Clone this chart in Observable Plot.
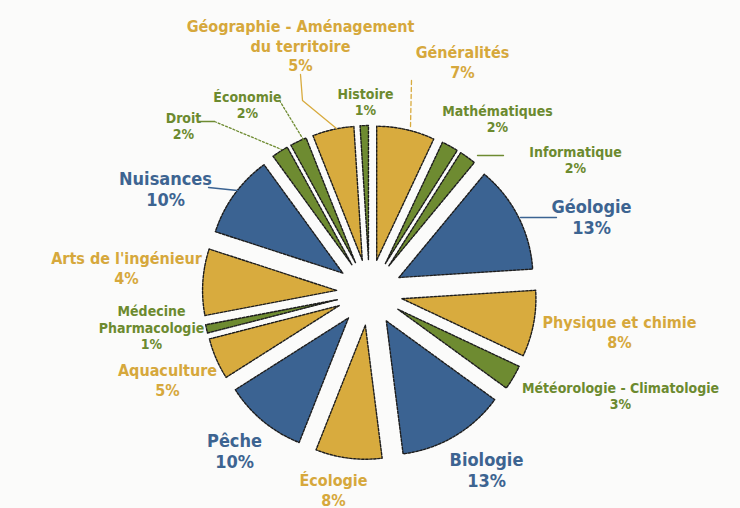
<!DOCTYPE html>
<html>
<head>
<meta charset="utf-8">
<script src="https://cdn.jsdelivr.net/npm/d3@7"></script>
<script src="https://cdn.jsdelivr.net/npm/@observablehq/plot@0.6"></script>
<style>
  html, body { margin: 0; padding: 0; background: #fbfbfa; }
  #chart svg { display: block; }
</style>
</head>
<body>
<div id="chart"></div>
<script>
// ---- Data ----
const categories = [
  "Généralités", "Mathématiques", "Informatique", "Géologie",
  "Physique et chimie", "Météorologie - Climatologie", "Biologie", "Écologie",
  "Pêche", "Aquaculture", "Médecine\nPharmacologie", "Arts de l'ingénieur",
  "Nuisances", "Droit", "Économie", "Géographie - Aménagement\ndu territoire", "Histoire"
];
const values = [7, 2, 2, 13, 8, 3, 13, 8, 10, 5, 1, 8, 10, 2, 2, 5, 1];
// percentages exactly as printed on the chart
const pctLabels = ["7%", "2%", "2%", "13%", "8%", "3%", "13%", "8%", "10%", "5%", "1%", "4%", "10%", "2%", "2%", "5%", "1%"];
const groups = ["gold", "green", "green", "blue", "gold", "green", "blue", "gold",
                "blue", "gold", "green", "gold", "blue", "green", "green", "gold", "green"];

// ---- Styles / layout ----
const palette = { gold: "#d8ab3e", blue: "#3b6392", green: "#6e8b31" };
const textColor = { gold: "#d6a83c", blue: "#3d6491", green: "#6c8a2f" };
const W = 740, H = 508;
const cx = 369, cy = 292;     // pie centre
const R = 134;                // slice radius
const EXPLODE = 33;           // outward offset of each slice

// label block centres (annotation layout)
const labelLayout = {
  "Généralités": [462, 61],
  "Mathématiques": [497, 118],
  "Informatique": [575, 159],
  "Géologie": [591, 216],
  "Physique et chimie": [619, 331],
  "Météorologie - Climatologie": [620, 395],
  "Biologie": [486, 469],
  "Écologie": [333, 489],
  "Pêche": [234, 450],
  "Aquaculture": [167, 379],
  "Médecine\nPharmacologie": [151, 327],
  "Arts de l'ingénieur": [126, 267],
  "Nuisances": [165, 188],
  "Droit": [183, 125],
  "Économie": [247, 104],
  "Géographie - Aménagement\ndu territoire": [300, 45],
  "Histoire": [365, 101]
};
// leader lines (annotation layout)
const leaders = [
  { g: "gold", dash: null, pts: [[300, 74], [302, 100], [336, 128]] },
  { g: "gold", dash: "4 3", pts: [[411, 80], [410, 126]] },
  { g: "green", dash: "2 2", pts: [[279, 100], [304, 141]] },
  { g: "green", dash: null, pts: [[198, 121], [214, 121]] },
  { g: "green", dash: "2 2", pts: [[214, 121], [281, 149]] },
  { g: "blue", dash: null, pts: [[208, 187], [237, 190]] },
  { g: "green", dash: null, pts: [[477, 155], [503, 155]] },
  { g: "blue", dash: null, pts: [[520, 217], [556, 217]] }
];

// ---- Build slice polygons ----
const total = d3.sum(values);
let cum = 0;
const polys = [];
categories.forEach((c, i) => {
  const a0 = cum / total * 2 * Math.PI;
  cum += values[i];
  const a1 = cum / total * 2 * Math.PI;
  const mid = (a0 + a1) / 2;
  const ax = cx + EXPLODE * Math.sin(mid), ay = cy - EXPLODE * Math.cos(mid);
  const color = palette[groups[i]];
  polys.push({ c, color, x: ax, y: ay });
  const n = Math.max(3, Math.ceil((a1 - a0) / 0.015));
  for (let k = 0; k <= n; k++) {
    const a = a0 + (a1 - a0) * k / n;
    polys.push({ c, color, x: ax + R * Math.sin(a), y: ay - R * Math.cos(a) });
  }
  polys.push({ c, color, x: ax, y: ay });
});

const labels = categories.map((c, i) => ({
  text: c + "\n" + pctLabels[i],
  g: groups[i],
  x: labelLayout[c][0],
  y: labelLayout[c][1],
  color: textColor[groups[i]]
}));

const leaderPts = leaders.flatMap((l, j) => l.pts.map(p => ({ j, x: p[0], y: p[1], g: l.g, dash: l.dash })));

const fontFamily = "'DejaVu Sans Condensed', 'Liberation Sans Narrow', 'DejaVu Sans', sans-serif";
const textMark = (g, size, lh) => Plot.text(labels.filter(d => d.g === g), {
  x: "x", y: "y", text: "text", fill: "color",
  fontSize: size, fontWeight: "bold", lineHeight: lh, lineAnchor: "middle",
  textAnchor: "middle", fontFamily
});

const leaderMarks = leaders.map((l, j) => Plot.line(leaderPts.filter(d => d.j === j), {
  x: "x", y: "y", stroke: palette[l.g], strokeWidth: 1.3,
  strokeDasharray: l.dash || undefined
}));

const chart = Plot.plot({
  width: W, height: H,
  margin: 0,
  x: { domain: [0, W], range: [0, W], axis: null },
  y: { domain: [0, H], range: [0, H], axis: null },
  color: { type: "identity" },
  style: { background: "transparent", overflow: "visible" },
  marks: [
    Plot.line(polys, {
      x: "x", y: "y", z: "c", fill: "color",
      stroke: "#1c1c1c", strokeWidth: 1.4, strokeDasharray: "2.5 1.5",
      strokeLinejoin: "round"
    }),
    ...leaderMarks,
    textMark("blue", 18, 1.17),
    textMark("gold", 16, 1.22),
    textMark("green", 14, 1.18)
  ]
});
document.getElementById("chart").appendChild(chart);
</script>
</body>
</html>
